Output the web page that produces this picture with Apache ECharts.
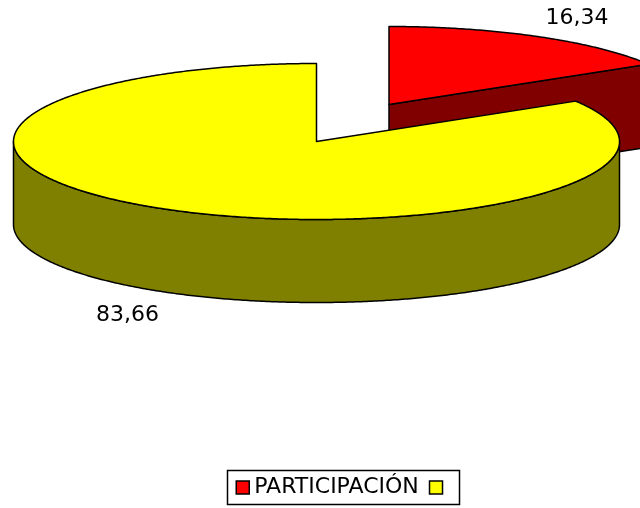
<!DOCTYPE html>
<html>
<head>
<meta charset="utf-8">
<style>html,body{margin:0;padding:0;background:#fff}#c{width:640px;height:508px}</style>
<script src="https://cdn.jsdelivr.net/npm/echarts@6/dist/echarts.min.js"></script>
</head>
<body>
<div id="c"></div>
<script>
var categories = ['PARTICIPACIÓN', ' '];
var values = [16.34, 83.66];
var valueLabels = ['16,34', '83,66'];
var topColors = ['#ff0000', '#ffff00'];
var sideColors = ['#800000', '#808000'];

var total = values[0] + values[1];
var RX = 303, RY = 78, DEPTH = 83, LINE = 1.5;
var FONT = '22px "DejaVu Sans"';
var layouts = [
  {cx: 389, cy: 104.5, labelX: 577, labelY: 18},
  {cx: 316.5, cy: 141.5, labelX: 127.5, labelY: 315}
];

function pt(l, deg, dy) {
  var t = deg * Math.PI / 180;
  return [l.cx + RX * Math.sin(t), l.cy - RY * Math.cos(t) + (dy || 0)];
}
function arc(l, a0, a1, dy) {
  var pts = [], n = Math.max(2, Math.ceil(Math.abs(a1 - a0) * 2));
  for (var i = 0; i <= n; i++) pts.push(pt(l, a0 + (a1 - a0) * i / n, dy));
  return pts;
}
function poly(points, fill) {
  return {type: 'polygon', shape: {points: points},
    style: {fill: fill, stroke: '#000', lineWidth: LINE, lineJoin: 'round'}};
}
function renderItem(index) {
  return function (params, api) {
    var l = layouts[index];
    var sweep = api.value(0) / total * 360;
    var kids = [];
    if (index === 0) {
      var end = sweep;
      var e0 = pt(l, end), e1 = pt(l, end, DEPTH), c1 = [l.cx, l.cy + DEPTH];
      kids.push(poly([[l.cx, l.cy], e0, e1, c1], sideColors[0]));
      kids.push(poly([[l.cx, l.cy]].concat(arc(l, 0, end)), topColors[0]));
    } else {
      var start = 360 - sweep;
      kids.push(poly(arc(l, 90, 270).concat(arc(l, 270, 90, DEPTH)), sideColors[1]));
      kids.push(poly([[l.cx, l.cy]].concat(arc(l, start, 360)), topColors[1]));
    }
    kids.push({type: 'text', style: {text: valueLabels[index], x: l.labelX, y: l.labelY,
      fill: '#000', font: FONT, textAlign: 'center', textVerticalAlign: 'middle'}});
    return {type: 'group', children: kids};
  };
}

var chart = echarts.init(document.getElementById('c'), null, {renderer: 'canvas'});
chart.setOption({
  animation: false,
  backgroundColor: '#fff',
  legend: {
    left: 227.5, top: 470.5,
    orient: 'horizontal',
    data: categories,
    selectedMode: false,
    icon: 'rect',
    itemWidth: 13, itemHeight: 13, itemGap: 10,
    padding: [6, 5, 6, 8],
    backgroundColor: '#fff',
    borderColor: '#000', borderWidth: 1.5,
    itemStyle: {borderColor: '#000', borderWidth: 1.5},
    textStyle: {color: '#000', fontFamily: 'DejaVu Sans', fontSize: 22}
  },
  series: categories.map(function (name, i) {
    return {
      type: 'custom', name: name, coordinateSystem: 'none', silent: true,
      itemStyle: {color: topColors[i]},
      renderItem: renderItem(i),
      data: [[values[i]]]
    };
  })
});
</script>
</body>
</html>
